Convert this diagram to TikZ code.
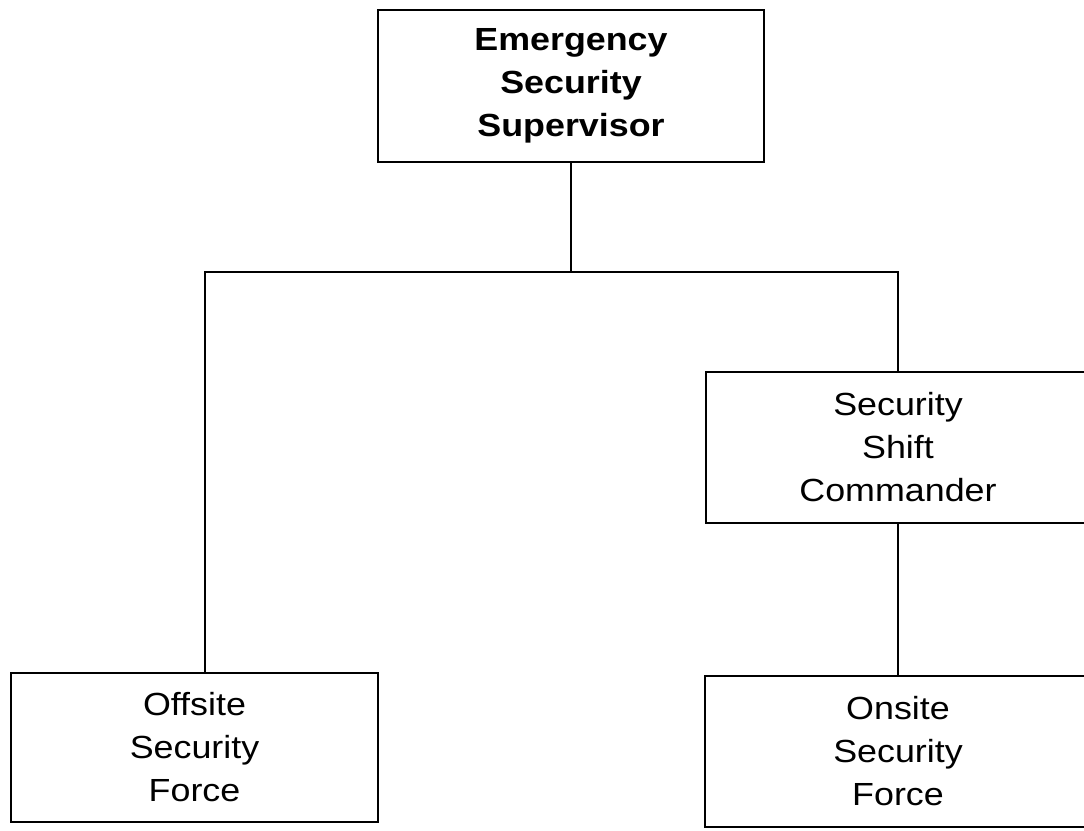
\documentclass[tikz,border=0pt]{standalone}
\usepackage{fontspec}
\setmainfont{Liberation Sans}[FakeStretch=1.12]
\usetikzlibrary{positioning}

\tikzset{
  unit/.style={draw, line width=2pt, rectangle, align=center,
    inner sep=0pt, font=\fontsize{32}{43}\selectfont},
  link/.style={line width=2pt}
}

\begin{document}
\begin{tikzpicture}[x=1pt, y=-1pt]
\useasboundingbox (0,0) rectangle (1084,830);
\clip (0,0) rectangle (1084,830);

\coordinate (S) at (571,86);
\coordinate (O) at (194.5,747.5);
\coordinate (C) at (898,447.5);
\coordinate (F) at (898,751.5);

\node[unit, minimum width=386pt, minimum height=152pt, font=\fontsize{32}{43}\selectfont\bfseries]
  (sup) at (S) {Emergency\\Security\\Supervisor};
\node[unit, minimum width=367pt, minimum height=149pt]
  (off) at (O) {Offsite\\Security\\Force};
\node[unit, minimum width=384pt, minimum height=151pt]
  (cmd) at (C) {Security\\Shift\\Commander};
\node[unit, minimum width=386pt, minimum height=151pt]
  (ons) at (F) {Onsite\\Security\\Force};

\coordinate (split) at (571,272);

\draw[link] (sup.south)--(split);
\draw[link] (split)-|([xshift=10pt]off.north);
\draw[link] (split)-|(cmd.north);
\draw[link] (cmd.south)--(ons.north);
\end{tikzpicture}
\end{document}
